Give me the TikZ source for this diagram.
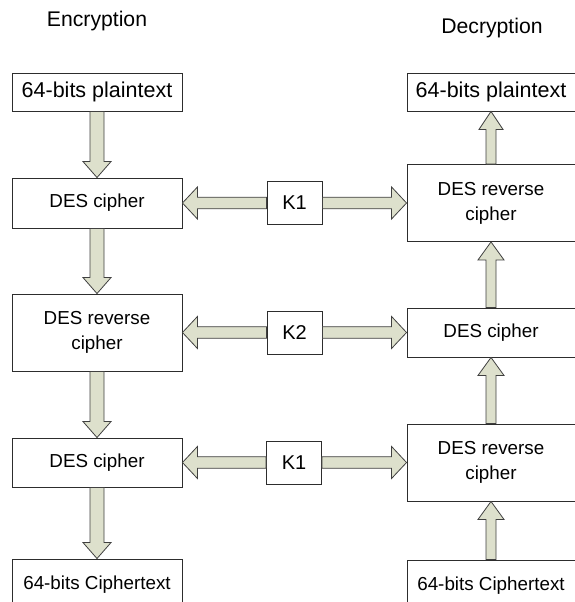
\documentclass[tikz,border=0pt]{standalone}
\usepackage{fontspec}
\setmainfont{Liberation Sans}
\usetikzlibrary{calc}
\definecolor{arrowfill}{RGB}{221,224,204}
\definecolor{arrowline}{RGB}{64,64,64}
\definecolor{boxline}{RGB}{45,45,45}
\tikzset{
  box/.style={draw=boxline, line width=0.9pt, fill=white, minimum width=170pt, inner sep=0pt, align=center},
  boxr/.style={box, minimum width=168pt},
  keybox/.style={draw=boxline, line width=0.9pt, fill=white, minimum width=55pt, minimum height=43pt, inner sep=0pt, font=\fontsize{20}{24}\selectfont},
  big/.style={font=\fontsize{21.5}{25}\selectfont},
  small/.style={font=\fontsize{18.8}{25}\selectfont},
  heading/.style={font=\fontsize{21.2}{25}\selectfont, anchor=base},
  fat/.style={fill=arrowfill, draw=arrowline, line width=0.8pt, line join=miter}
}
% #1 start, #2 tip, #3 shaft half width, #4 head half width, #5 head length
\newcommand{\fatarrow}[5]{%
  \coordinate (hb) at ($(#2)!#5!(#1)$);
  \draw[fat] ($(#1)!#3!90:(#2)$) -- ($(hb)!#3!-90:(#1)$) -- ($(hb)!#4!-90:(#1)$) -- (#2)
     -- ($(hb)!#4!90:(#1)$) -- ($(hb)!#3!90:(#1)$) -- ($(#1)!#3!-90:(#2)$) -- cycle;
}
\begin{document}
\begin{tikzpicture}[x=1pt, y=-1pt]
\clip (0,0) rectangle (575,602);
\fill[white] (0,0) rectangle (575,602);

% headings
\node[heading] (enc) at (97,27) {Encryption};
\node[heading] (dec) at (492,34) {Decryption};

% left column
\node[box, big, minimum height=38pt] (L1) at (97,92) {64-bits plaintext};
\node[box, small, minimum height=50pt] (L2) at (97,203) {DES cipher};
\node[box, small, minimum height=77pt] (L3) at (97,332.5) {DES reverse\\cipher};
\node[box, small, minimum height=49pt] (L4) at (97,462.5) {DES cipher};
\node[box, small, minimum height=52pt] (L5) at (97,585) {64-bits Ciphertext};

% right column
\node[boxr, big, minimum height=38pt] (R1) at (491,92) {64-bits plaintext};
\node[boxr, small, minimum height=77pt] (R2) at (491,203) {DES reverse\\cipher};
\node[boxr, small, minimum height=49pt] (R3) at (491,332.5) {DES cipher};
\node[boxr, small, minimum height=77pt] (R4) at (491,462.5) {DES reverse\\cipher};
\node[boxr, small, minimum height=52pt] (R5) at (491,586) {64-bits Ciphertext};

% keys
\node[keybox] (K1) at (294.5,203) {K1};
\node[keybox] (K2) at (294.5,332.5) {K2};
\node[keybox] (K3) at (294,462.5) {K1};

% encryption flow (down)
\fatarrow{L1.south}{L2.north}{7pt}{14pt}{16pt}
\fatarrow{L2.south}{L3.north}{7pt}{14pt}{16pt}
\fatarrow{L3.south}{L4.north}{7pt}{14pt}{16pt}
\fatarrow{L4.south}{L5.north}{7pt}{14pt}{16pt}

% decryption flow (up)
\fatarrow{R5.north}{R4.south}{5pt}{13pt}{18pt}
\fatarrow{R4.north}{R3.south}{5pt}{13pt}{18pt}
\fatarrow{R3.north}{R2.south}{5pt}{13pt}{18pt}
\fatarrow{R2.north}{R1.south}{5pt}{12pt}{18pt}

% key arrows
\fatarrow{K1.west}{L2.east}{5.8pt}{16pt}{15pt}
\fatarrow{K1.east}{R2.west}{5.8pt}{16pt}{15pt}
\fatarrow{K2.west}{L3.east}{5.8pt}{16pt}{15pt}
\fatarrow{K2.east}{R3.west}{5.8pt}{16pt}{15pt}
\fatarrow{K3.west}{L4.east}{5.8pt}{16pt}{15pt}
\fatarrow{K3.east}{R4.west}{5.8pt}{16pt}{15pt}
\end{tikzpicture}
\end{document}
